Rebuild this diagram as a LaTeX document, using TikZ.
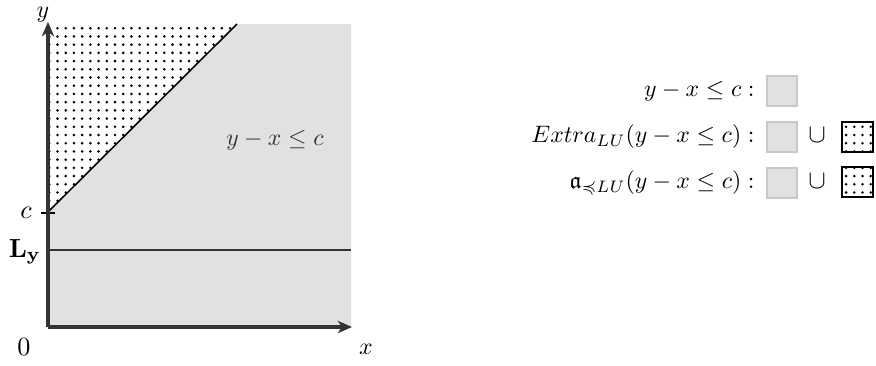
\documentclass[tikz,border=0pt]{standalone}
\usepackage{amssymb}
\usetikzlibrary{arrows.meta,patterns}
\definecolor{regiongray}{HTML}{E1E1E1}
\definecolor{boxedge}{HTML}{C8C8C8}
\definecolor{axisgray}{HTML}{333333}
\pgfdeclarepatternformonly{bigdots}{\pgfqpoint{-1pt}{-1pt}}{\pgfqpoint{1pt}{1pt}}{\pgfqpoint{3.45pt}{3.45pt}}{%
  \pgfpathcircle{\pgfqpoint{0pt}{0pt}}{0.6pt}\pgfusepath{fill}}
\tikzset{
  axisline/.style={axisgray, line width=1.3pt, -{Stealth[length=6pt,width=5.2pt,inset=1.8pt]}},
  dotfill/.style={pattern=bigdots, pattern color=black},
  graybox/.style={draw=boxedge, fill=regiongray, line width=0.8pt, minimum width=12.5pt, minimum height=12.5pt, inner sep=0pt},
  dotbox/.style={draw=black, line width=0.5pt, dotfill, minimum width=13pt, minimum height=12.6pt, inner sep=0pt},
  legtext/.style={anchor=east, inner sep=0pt},
}
\begin{document}
\begin{tikzpicture}[x=0.42pt,y=-0.42pt]
\useasboundingbox (0,0) rectangle (876,365);
% region coordinates
\coordinate (O) at (48,327);
\coordinate (Xend) at (352,327);
\coordinate (Yend) at (48,22);
\coordinate (C) at (48,212);
\coordinate (D) at (237,24);
\coordinate (TL) at (48,24);
\coordinate (TR) at (351,24);
\coordinate (BR) at (351,327);
\coordinate (LyA) at (48,250);
\coordinate (LyB) at (351,250);
\coordinate (tickA) at (41,213);
\coordinate (tickB) at (55,213);
% regions
\fill[regiongray] (C) -- (D) -- (TR) -- (BR) -- (O) -- cycle;
\fill[dotfill] (TL) -- (D) -- (C) -- cycle;
\draw[black, line width=0.65pt] (C) -- (D);
\draw[axisgray, line width=0.85pt] (LyA) -- (LyB);
\draw[black, line width=0.45pt] (tickA) -- (tickB);
\draw[axisline] (O) -- (Xend);
\draw[axisline] (O) -- (Yend);
% labels
\node[anchor=base, inner sep=0pt] (ylab) at (43,17) {$y$};
\node[anchor=base, inner sep=0pt] (xlab) at (366,354) {$x$};
\node[scale=1.1, anchor=base, inner sep=0pt] (clab) at (26,218) {$c$};
\node[scale=1.1, anchor=base, inner sep=0pt] (Lylab) at (25,257) {$\mathbf{L_y}$};
\node[scale=1.1, anchor=base, inner sep=0pt] (zero) at (24,355) {$0$};
\node[text=black!80] (reglab) at (275,140) {$y-x\le c$};
% legend
\node[legtext] (l1) at (755,91) {$y-x\le c:$};
\node[legtext] (l2) at (755,137) {$Extra_{LU}(y-x\le c):$};
\node[legtext] (l3) at (755,183) {$\mathfrak{a}_{\preccurlyeq LU}(y-x\le c):$};
\node[graybox] (g1) at (782,91) {};
\node[graybox] (g2) at (782,137) {};
\node[graybox] (g3) at (782,183) {};
\node[anchor=base, inner sep=0pt, scale=1.1] (u2) at (817,0 |- l2.base) {$\cup$};
\node[anchor=base, inner sep=0pt, scale=1.1] (u3) at (817,0 |- l3.base) {$\cup$};
\node[dotbox] (d2) at (857.5,137) {};
\node[dotbox] (d3) at (857.5,182) {};
\end{tikzpicture}
\end{document}
